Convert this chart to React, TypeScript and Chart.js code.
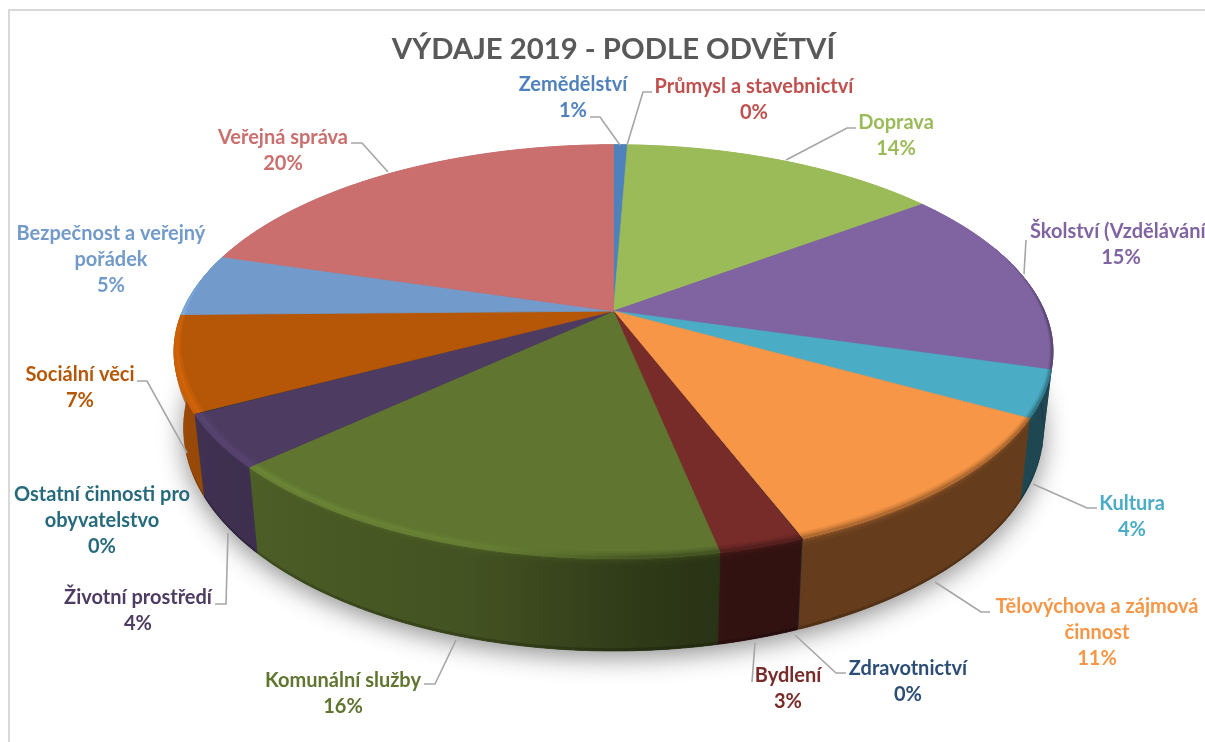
import React, { useEffect, useRef } from "react";
import { Chart, PieController, ArcElement, Title } from "chart.js";

const categories = ["Zemědělství", "Průmysl a stavebnictví", "Doprava", "Školství (Vzdělávání)", "Kultura", "Tělovýchova a zájmová činnost", "Zdravotnictví", "Bydlení", "Komunální služby", "Životní prostředí", "Ostatní činnosti pro obyvatelstvo", "Sociální věci", "Bezpečnost a veřejný pořádek", "Veřejná správa"];
const values = [0.6, 0.02, 14.1, 14.7, 3.6, 11.0, 0.05, 2.6, 16.25, 4.05, 0.1, 7.45, 4.9, 20.3];
const colors = ["#4f81bd", "#c0504d", "#9bbb59", "#8064a2", "#4bacc6", "#f79646", "#2c4d75", "#772c2a", "#5f7530", "#4d3b62", "#276a7c", "#b65708", "#729aca", "#ca6f6e"];
const labelLines = [["Zemědělství"], ["Průmysl a stavebnictví"], ["Doprava"], ["Školství (Vzdělávání)"], ["Kultura"], ["Tělovýchova a zájmová", "činnost"], ["Zdravotnictví"], ["Bydlení"], ["Komunální služby"], ["Životní prostředí"], ["Ostatní činnosti pro", "obyvatelstvo"], ["Sociální věci"], ["Bezpečnost a veřejný", "pořádek"], ["Veřejná správa"]];
const labelCenters = [[573, 85], [754, 87], [896, 123], [1121, 232], [1132, 504], [1097, 607], [908, 669], [788, 676], [343, 681], [138, 598], [102, 495], [80, 375], [111, 234], [283, 138]];
const leaders: number[][][] = [
  [[590, 117], [600, 117], [620, 145]],
  [[652, 92], [643, 92], [627, 145]],
  [[856, 128], [847, 128], [786, 160]],
  [[1026, 240], [1024, 274]],
  [[1097, 508], [1087, 508], [1033, 484]],
  [[990, 612], [981, 612], [935, 582]],
  [[846, 673], [836, 673], [795, 635]],
  [[752, 682], [755, 643]],
  [[424, 684], [435, 684], [456, 640]],
  [[215, 604], [226, 604], [228, 533]],
  [],
  [[137, 381], [147, 381], [187, 453]],
  [],
  [[351, 143], [362, 143], [388, 172]],
];
const shadeStops = [[0, 1], [70, 1], [90, 0.45], [105, 0.41], [165, 0.41], [178, 0.5], [195, 0.7], [225, 0.8], [245, 0.84], [262, 1], [360, 1]];
const highlightStops = [[0, 0], [178, 0], [200, 0.15], [225, 0.2], [265, 0.22], [285, 0], [360, 0]];
const ringWidthStops = [[0, 0], [70, 0], [88, 0.006], [110, 0.008], [140, 0.016], [180, 0.022], [250, 0.02], [285, 0], [360, 0]];
const PERSPECTIVE = 0.196, X_SCALE = 1.796, Y_SCALE = 0.829, DEPTH_SCALE = 0.31, STEP_DEG = 0.5, BASE_SHRINK = 0.022;

const interp = (t: number[][], a: number) => {
  for (let i = 1; i < t.length; i++) if (a <= t[i][0]) {
    const q = (a - t[i - 1][0]) / (t[i][0] - t[i - 1][0]);
    return t[i - 1][1] + q * (t[i][1] - t[i - 1][1]);
  }
  return t[t.length - 1][1];
};
const rgbOf = (h: string) => [1, 3, 5].map((i) => parseInt(h.slice(i, i + 2), 16));
const css = (c: number[]) => `rgb(${c.map((x) => Math.max(0, Math.min(255, Math.round(x)))).join(",")})`;
const mix = (a: number[], b: number[], t: number) => a.map((x, i) => x + (b[i] - x) * t);

class Pie3DController extends PieController {
  static id = "pie3d";
  static defaults = PieController.defaults;
  static overrides = PieController.overrides;
  draw() {
    const ctx = this.chart.ctx;
    const arcs = this.getMeta().data as any[];
    if (!arcs.length) return;
    const { x: cx, y: cy, outerRadius: R } = arcs[0].getProps(["x", "y", "outerRadius"]);
    const A = R * X_SCALE, B = R * Y_SCALE, D = R * DEPTH_SCALE;
    const P = (th: number, r: number, z: number): [number, number] => {
      const u = r * Math.sin(th), v = -r * Math.cos(th), w = 1 - PERSPECTIVE * v;
      return [cx + ((A * u) / w) * (1 - BASE_SHRINK * z), cy + (B * v + D * z) / w];
    };
    const poly = (pts: [number, number][], col: any, edge = true) => {
      ctx.beginPath();
      pts.forEach((p, i) => (i ? ctx.lineTo(p[0], p[1]) : ctx.moveTo(p[0], p[1])));
      ctx.closePath();
      ctx.fillStyle = col;
      ctx.strokeStyle = col;
      ctx.lineWidth = 0.8;
      ctx.fill();
      if (edge) ctx.stroke();
    };
    ctx.save();
    // soft cast shadow of the base
    ctx.save();
    ctx.shadowColor = "rgba(0,0,0,0.45)";
    ctx.shadowBlur = 26;
    ctx.shadowOffsetY = 6;
    const base: [number, number][] = [];
    for (let d = 0; d < 360; d += 2) base.push(P((d * Math.PI) / 180, 1, 1));
    ctx.beginPath();
    base.forEach((p, i) => (i ? ctx.lineTo(p[0], p[1]) : ctx.moveTo(p[0], p[1])));
    ctx.closePath();
    ctx.fillStyle = "#333";
    ctx.fill();
    ctx.restore();

    const spans = arcs
      .map((a, i) => {
        const s = a.startAngle + Math.PI / 2, e = a.endAngle + Math.PI / 2;
        return { s, e, deg: ((e - s) * 180) / Math.PI, rgb: rgbOf(colors[i]) };
      })
      .filter((x) => x.deg > 0.5)
      .map((x) => ({ ...x, n: Math.max(1, Math.ceil(x.deg / STEP_DEG)) }));
    // side wall of every slice: one shape with a smooth shade along it
    spans.forEach(({ s, e, n, rgb }) => {
      const angles = Array.from({ length: n + 1 }, (_, k) => s + ((e - s) * k) / n);
      const xs = angles.map((t) => P(t, 1, 0)[0]);
      const minX = Math.min(...xs), maxX = Math.max(...xs);
      const g = ctx.createLinearGradient(minX, 0, Math.max(maxX, minX + 1), 0);
      angles.forEach((t, k) => {
        if (k % 6 && k !== n) return;
        const f = interp(shadeStops, (t * 180) / Math.PI);
        g.addColorStop((xs[k] - minX) / Math.max(maxX - minX, 1), css(rgb.map((c) => c * f)));
      });
      const top = angles.map((t) => P(t, 1, 0));
      const bot = angles.map((t) => P(t, 1, 1)).reverse();
      poly([...top, ...bot], g);
    });
    // soft bands where the wall meets the top face and the base
    const zBands = [0, 0.025, 0.05, 0.08];
    const zTone = [0.72, 0.88, 0.96];
    spans.forEach(({ s, e, n, rgb }) => {
      for (let k = 0; k < n; k++) {
        const a = s + ((e - s) * k) / n, b = s + ((e - s) * (k + 1)) / n;
        const deg = (((a + b) / 2) * 180) / Math.PI;
        const side = rgb.map((c) => c * interp(shadeStops, deg));
        for (let j = 0; j < zBands.length - 1; j++) {
          poly([P(a, 1, zBands[j]), P(b, 1, zBands[j]), P(b, 1, zBands[j + 1]), P(a, 1, zBands[j + 1])], css(mix(rgb, side, zTone[j])), false);
        }
        poly([P(a, 1, 0.97), P(b, 1, 0.97), P(b, 1, 1), P(a, 1, 1)], css(side.map((c) => c * 0.8)), false);
      }
    });
    // top faces
    spans.forEach(({ s, e, n, rgb }) => {
      const pts: [number, number][] = [[cx, cy]];
      for (let k = 0; k <= n; k++) pts.push(P(s + ((e - s) * k) / n, 1, 0));
      poly(pts, css(rgb));
    });
    // bevel ring on the top face
    const ringPos = [1, 0.66, 0.33, 0];
    const ringDark = [0.12, 0.28, 0.5];
    const ringLight = [0.45, 1, 0.75];
    spans.forEach(({ s, e, n, rgb }) => {
      for (let k = 0; k < n; k++) {
        const a = s + ((e - s) * k) / n, b = s + ((e - s) * (k + 1)) / n;
        const deg = (((a + b) / 2) * 180) / Math.PI;
        const w = interp(ringWidthStops, deg);
        if (w <= 0) continue;
        const side = rgb.map((c) => c * interp(shadeStops, deg));
        const hi = interp(highlightStops, deg);
        for (let j = 0; j < 3; j++) {
          const lit = rgb.map((c) => c * (1 + 0.7 * hi * ringLight[j]));
          const dark = mix(rgb, side, ringDark[j]);
          const col = mix(dark, lit, Math.min(1, hi / 0.1));
          const r0 = 1 - w * ringPos[j], r1 = 1 - w * ringPos[j + 1];
          poly([P(a, r0, 0), P(b, r0, 0), P(b, r1, 0), P(a, r1, 0)], css(col));
        }
      }
    });
    ctx.restore();
  }
}

const decorations = {
  id: "decorations",
  beforeDraw(chart: any) {
    const { ctx } = chart;
    ctx.save();
    ctx.fillStyle = "#ffffff";
    ctx.fillRect(0, 0, chart.width, chart.height);
    ctx.fillStyle = "#d9d9d9";
    ctx.fillRect(8, 9, 2, chart.height - 9);
    ctx.fillRect(8, 9, chart.width - 8, 2);
    ctx.restore();
  },
  afterDraw(chart: any) {
    const { ctx } = chart;
    const total = values.reduce((a, b) => a + b, 0);
    ctx.save();
    ctx.strokeStyle = "#a6a6a6";
    ctx.lineWidth = 1.6;
    leaders.forEach((pts) => {
      if (!pts.length) return;
      ctx.beginPath();
      pts.forEach((p, i) => (i ? ctx.lineTo(p[0], p[1]) : ctx.moveTo(p[0], p[1])));
      ctx.stroke();
    });
    ctx.font = "bold 20px Lato";
    ctx.textAlign = "center";
    ctx.textBaseline = "middle";
    categories.forEach((_, i) => {
      const lines = [...labelLines[i], `${Math.round((values[i] / total) * 100)}%`];
      ctx.fillStyle = colors[i];
      lines.forEach((t, j) => ctx.fillText(t, labelCenters[i][0], labelCenters[i][1] + j * 26));
    });
    ctx.restore();
  },
};

Chart.register(Pie3DController, ArcElement, Title);

export default function App() {
  const ref = useRef<HTMLCanvasElement>(null);
  useEffect(() => {
    const chart = new Chart(ref.current!, {
      type: "pie3d" as any,
      data: { labels: categories, datasets: [{ data: values, backgroundColor: colors, borderWidth: 0 }] },
      options: {
        responsive: false,
        animation: false,
        layout: { padding: { left: 22, right: 0, top: 0, bottom: 191 } },
        plugins: {
          legend: { display: false },
          tooltip: { enabled: false },
          title: {
            display: true,
            text: "VÝDAJE 2019 - PODLE ODVĚTVÍ",
            color: "#595959",
            font: { family: "Lato", weight: "bold", size: 29.3 },
            padding: { top: 32, bottom: 4 },
          },
        },
      },
      plugins: [decorations],
    } as any);
    return () => chart.destroy();
  }, []);
  return <canvas ref={ref} width={1205} height={742} style={{ position: "fixed", left: 0, top: 0, display: "block" }} />;
}
